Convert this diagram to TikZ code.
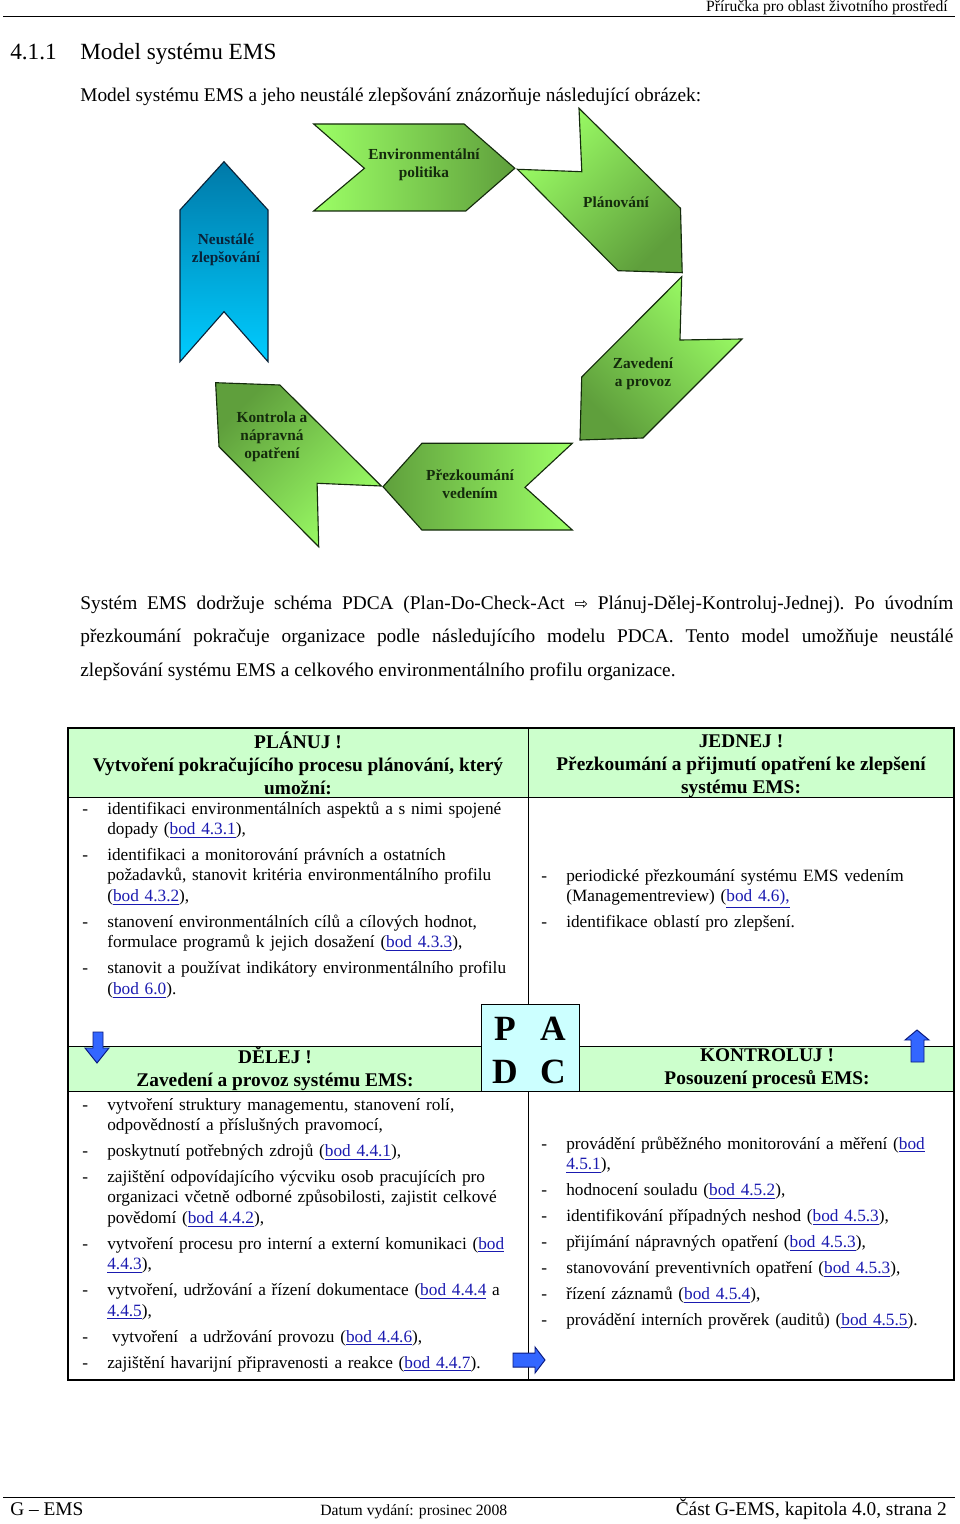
\documentclass[tikz,border=0pt]{standalone}
\usepackage{fontspec}
\setmainfont{Liberation Serif}
\newfontfamily\symfont{DejaVu Sans}
\usetikzlibrary{positioning}

\definecolor{chevlight}{HTML}{9CFF66}
\definecolor{chevdark}{HTML}{5F9F3C}
\definecolor{chevline}{HTML}{142B0C}
\definecolor{bluetop}{HTML}{0079A8}
\definecolor{bluebottom}{HTML}{00CCFF}
\definecolor{blueline}{HTML}{0A2238}
\definecolor{bandgreen}{HTML}{CCFFCC}
\definecolor{pdcacyan}{HTML}{CCFFFF}
\definecolor{linkblue}{HTML}{1A1AB0}
\definecolor{arrowfill}{HTML}{3366FF}
\definecolor{arrowline}{HTML}{0A1A80}

\newcommand{\bod}[1]{\textcolor{linkblue}{\underline{#1}}}
\newcommand{\prvni}{\setlength{\parskip}{3.4pt}\hangindent=15.5pt\hangafter=1\noindent\makebox[15.5pt][l]{-}}
\newcommand{\polozka}{\par\hangindent=15.5pt\hangafter=1\noindent\makebox[15.5pt][l]{-}}

\tikzset{
  chev/.style={draw=chevline, line width=0.7pt, top color=chevlight, bottom color=chevdark, shading angle=#1},
  blueband/.style={draw=blueline, line width=0.7pt, top color=bluetop, bottom color=bluebottom},
  chevtxt/.style={font=\fontsize{9.5}{11.2}\selectfont\bfseries, text=chevline, align=center, inner sep=0pt},
  body/.style={font=\fontsize{12}{21}\selectfont\frenchspacing, inner sep=0pt},
  small/.style={font=\fontsize{9.7}{12}\selectfont, inner sep=0pt},
  colhead/.style={font=\fontsize{12}{14.3}\selectfont\bfseries, align=center, inner sep=0pt},
  itemlist/.style={font=\fontsize{10.7}{12.7}\selectfont, text width=#1, align=left, inner sep=0pt, anchor=base west},
  pdca/.style={font=\fontsize{22}{22}\selectfont\bfseries, inner sep=0pt, anchor=base},
  bluearrow/.style={fill=arrowfill, draw=arrowline, line width=0.6pt},
  tabline/.style={line width=0.5pt}
}

\begin{document}
\begin{tikzpicture}[x=0.62pt, y=-0.62pt]
  \fill[white] (0,0) rectangle (960,1524);
  \useasboundingbox (0,0) rectangle (960,1524);

  % hlavicka a paticka
  \node[small, anchor=base east] (prirucka) at (948,12) {Příručka pro oblast životního prostředí};
  \draw[line width=0.6pt] (3,16) -- (955,16);
  \node[font=\fontsize{14.4}{16}\selectfont, inner sep=0pt, anchor=base west] (cislo) at (10,60) {4.1.1};
  \node[font=\fontsize{14.4}{16}\selectfont, inner sep=0pt, anchor=base west] (nadpis) at (80,60) {Model systému EMS};
  \node[body, anchor=base west] (uvod) at (80,102) {Model systému EMS a jeho neustálé zlepšování znázorňuje následující obrázek:};

  \draw[line width=0.6pt] (3,1497) -- (955,1497);
  \node[body, anchor=base west] (gems) at (10,1515) {G – EMS};
  \node[small, anchor=base west] (datum) at (320,1515) {Datum vydání: prosinec 2008};
  \node[body, anchor=base east] (strana) at (947,1515) {Část G-EMS, kapitola 4.0, strana 2};

  % cyklus EMS
  \path[blueband] (224,161.7) -- (268,210) -- (268,361.7) -- (224,311.7) -- (180,361.7) -- (180,210) -- cycle;
  \path[chev=90] (313.7,124) -- (464.1,124) -- (514.8,168.3) -- (465.8,211) -- (313.7,211) -- (364.4,168.3) -- cycle;
  \path[chev=45] (579,108.3) -- (680.5,208.3) -- (682.2,272.7) -- (618,270.7) -- (517.5,169.3) -- (581.8,171.7) -- cycle;
  \path[chev=315] (681.7,276.7) -- (581.7,377) -- (580,440) -- (643,438) -- (742,339) -- (680,340) -- cycle;
  \path[chev=270] (421.9,443.3) -- (572.3,443.3) -- (525,487.3) -- (572.3,530) -- (421.9,530) -- (383,486.7) -- cycle;
  \path[chev=225] (215.6,382.7) -- (279.9,385) -- (381.3,486) -- (317.1,483.3) -- (318.7,546.7) -- (219,446.7) -- cycle;

  \node[chevtxt, text=blueline] (neustale) at (226,250) {Neustálé\\zlepšování};
  \node[chevtxt] (politika) at (424,165) {Environmentální\\politika};
  \node[chevtxt] (planovani) at (616,202) {Plánování};
  \node[chevtxt] (zavedeni) at (643,373.5) {Zavedení\\a provoz};
  \node[chevtxt] (prezkoumani) at (470,484) {Přezkoumání\\vedením};
  \node[chevtxt] (kontrola) at (272,436.5) {Kontrola a\\nápravná\\opatření};

  \node[body, anchor=base west, text width=541.3pt, align=justify] (odstavec) at (80,609)
    {Systém EMS dodržuje schéma PDCA (Plan-Do-Check-Act {\symfont\fontsize{10}{10}\selectfont ⇨} Plánuj-Dělej-Kontroluj-Jednej). Po úvodním\linebreak
     přezkoumání pokračuje organizace podle následujícího modelu PDCA. Tento model umožňuje neustálé\linebreak
     zlepšování systému EMS a celkového environmentálního profilu organizace.};

  % tabulka PDCA
  \fill[bandgreen] (69,729) rectangle (953,797);
  \fill[bandgreen] (69,1046) rectangle (953,1091.5);
  \draw[tabline] (69,797) -- (953,797);
  \draw[tabline] (69,1046) -- (953,1046);
  \draw[tabline] (69,1091.5) -- (953,1091.5);
  \draw[tabline] (528,728) -- (528,1380);
  \draw[tabline, fill=pdcacyan] (481.7,1004.3) rectangle (579.3,1091.7);
  \draw[line width=1.8pt] (68,728) rectangle (954,1380);

  \node[pdca] (p) at (505,1040) {P};
  \node[pdca] (a) at (553,1040) {A};
  \node[pdca] (d) at (505,1083) {D};
  \node[pdca] (c) at (553,1083) {C};

  \node[colhead] (planuj) at (298,763) {PLÁNUJ !\\Vytvoření pokračujícího procesu plánování, který\\umožní:};
  \node[colhead] (jednej) at (741,766) {JEDNEJ !\\Přezkoumání a přijmutí opatření ke zlepšení\\systému EMS:};
  \node[colhead] (delej) at (275,1069) {DĚLEJ !\\Zavedení a provoz systému EMS:};
  \node[colhead] (kontroluj) at (767,1069) {KONTROLUJ !\\Posouzení procesů EMS:};

  \node[itemlist=300pt] (planuj-body) at (82,814) {%
    \prvni identifikaci environmentálních aspektů a s nimi spojené\newline dopady (\bod{bod 4.3.1}),
    \polozka identifikaci a monitorování právních a ostatních\newline požadavků, stanovit kritéria environmentálního profilu\newline (\bod{bod 4.3.2}),
    \polozka stanovení environmentálních cílů a cílových hodnot,\newline formulace programů k jejich dosažení (\bod{bod 4.3.3}),
    \polozka stanovit a používat indikátory environmentálního profilu\newline (\bod{bod 6.0}).\par};

  \node[itemlist=260pt] (jednej-body) at (541,881) {%
    \prvni periodické přezkoumání systému EMS vedením\newline (Managementreview) (\bod{bod 4.6),}
    \polozka identifikace oblastí pro zlepšení.\par};

  \node[itemlist=300pt] (delej-body) at (82,1110) {%
    \prvni vytvoření struktury managementu, stanovení rolí,\newline odpovědností a příslušných pravomocí,
    \polozka poskytnutí potřebných zdrojů (\bod{bod 4.4.1}),
    \polozka zajištění odpovídajícího výcviku osob pracujících pro\newline organizaci včetně odborné způsobilosti, zajistit celkové\newline povědomí (\bod{bod 4.4.2}),
    \polozka vytvoření procesu pro interní a externí komunikaci (\bod{bod}\newline \bod{4.4.3}),
    \polozka vytvoření, udržování a řízení dokumentace (\bod{bod 4.4.4} a\newline \bod{4.4.5}),
    \polozka\hspace{3pt}vytvoření\ \ a udržování provozu (\bod{bod 4.4.6}),
    \polozka zajištění havarijní připravenosti a reakce (\bod{bod 4.4.7}).\par};

  \node[itemlist=260pt] (kontroluj-body) at (541,1149) {%
    \prvni provádění průběžného monitorování a měření (\bod{bod}\newline \bod{4.5.1}),
    \polozka hodnocení souladu (\bod{bod 4.5.2}),
    \polozka identifikování případných neshod (\bod{bod 4.5.3}),
    \polozka přijímání nápravných opatření (\bod{bod 4.5.3}),
    \polozka stanovování preventivních opatření (\bod{bod 4.5.3}),
    \polozka řízení záznamů (\bod{bod 4.5.4}),
    \polozka provádění interních prověrek (auditů) (\bod{bod 4.5.5}).\par};

  % modre sipky
  \path[bluearrow] (93,1032) -- (103,1032) -- (103,1048) -- (109,1048) -- (97,1063) -- (85,1048) -- (93,1048) -- cycle;
  \path[bluearrow] (911,1062) -- (924,1062) -- (924,1040) -- (929,1040) -- (917,1030) -- (905,1040) -- (911,1040) -- cycle;
  \path[bluearrow] (513,1353) -- (535,1353) -- (535,1347) -- (545,1360) -- (535,1373) -- (535,1367) -- (513,1367) -- cycle;
\end{tikzpicture}
\end{document}
